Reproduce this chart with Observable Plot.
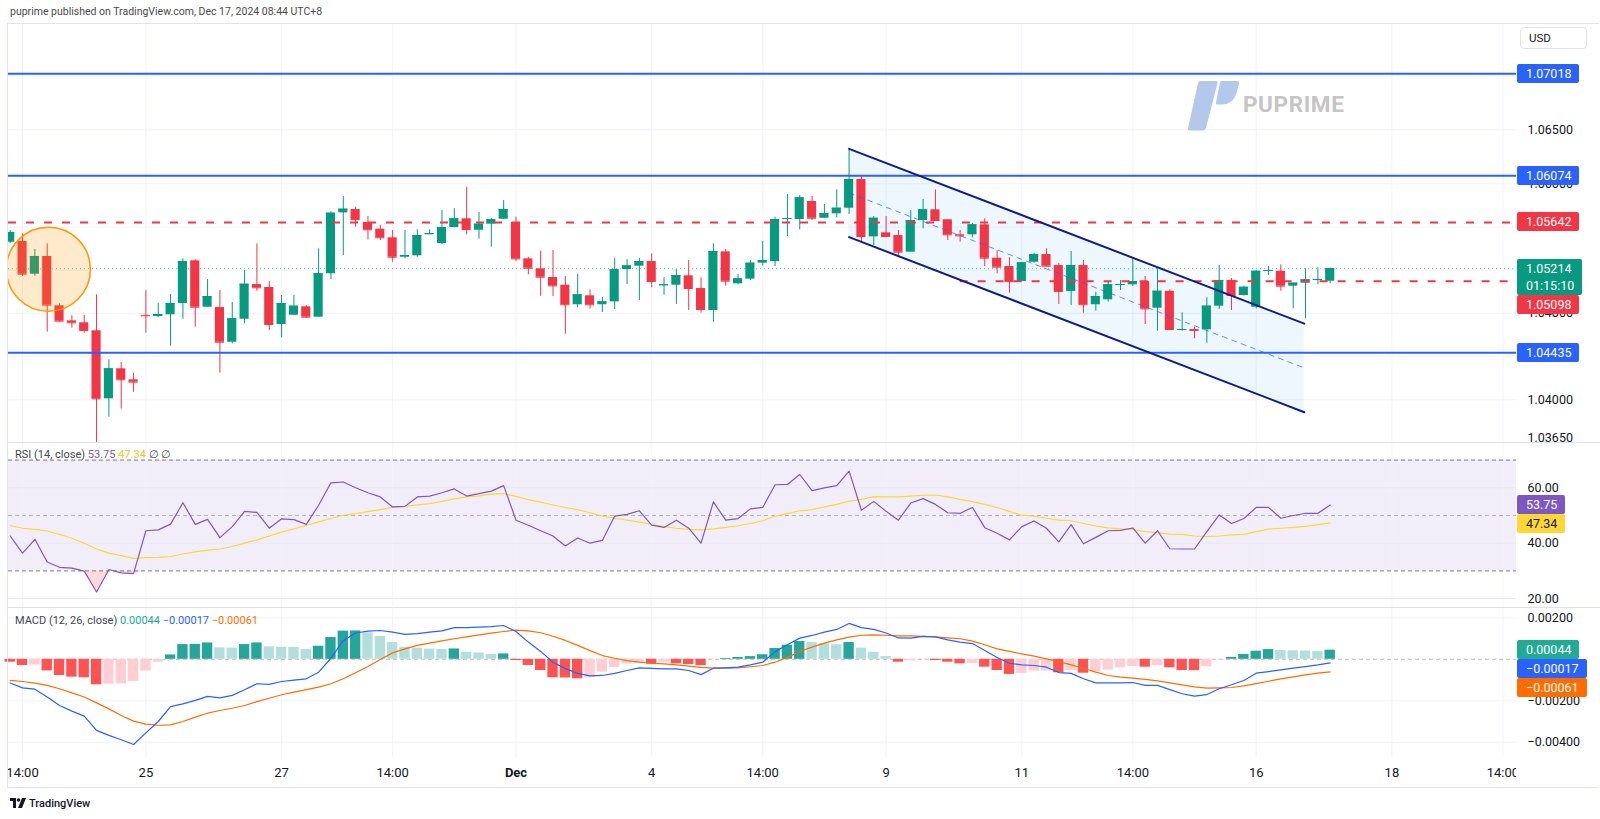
<!DOCTYPE html>
<html><head><meta charset="utf-8">
<script src="https://cdn.jsdelivr.net/npm/d3@7"></script>
<script src="https://cdn.jsdelivr.net/npm/@observablehq/plot@0.6"></script>
<style>
body{margin:0;background:#fff;font-family:Roboto,"Liberation Sans",sans-serif;}
#root{position:relative;width:1600px;height:819px;overflow:hidden;background:#fff;}
.badge{position:absolute;left:1517px;height:19px;line-height:19px;padding:0 8px 0 9px;font-size:12.5px;color:#fff;border-radius:2px;white-space:nowrap;box-sizing:border-box}
</style></head><body><div id="root"></div><script>
// ---------- data ----------
const open = [1.05459,1.05466,1.05163,1.05327,1.04870,1.04731,1.04713,1.04639,1.04009,1.04287,
1.04185,1.04782,1.04771,1.04787,1.04892,1.05287,1.04857,1.04854,1.04533,1.04746,
1.05067,1.05040,1.04697,1.04783,1.04861,1.04765,1.05167,1.05731,1.05762,1.05642,
1.05580,1.05500,1.05320,1.05333,1.05528,1.05447,1.05595,1.05676,1.05570,1.05626,
1.05672,1.05642,1.05305,1.05213,1.05132,1.05061,1.04880,1.04963,1.04880,1.04907,
1.05206,1.05237,1.05280,1.05056,1.05061,1.05148,1.05030,1.04827,1.05370,1.05074,
1.05117,1.05265,1.05280,1.05672,1.05669,1.05836,1.05681,1.05722,1.05774,1.06040,
1.05509,1.05546,1.05521,1.05367,1.05660,1.05759,1.05667,1.05528,1.05528,1.05620,
1.05311,1.05234,1.05095,1.05274,1.05345,1.05243,1.05003,1.05243,1.04880,1.04926,
1.05061,1.05065,1.05095,1.04848,1.05005,1.04642,1.04651,1.04648,1.04867,1.05105,
1.04966,1.04857,1.05190,1.05190,1.05052,1.05080,1.05107,1.05098];
const high = [1.05568,1.05537,1.05392,1.05444,1.04889,1.04778,1.04780,1.04972,1.04370,1.04345,
1.04246,1.05012,1.04894,1.04975,1.05305,1.05296,1.05114,1.05012,1.04901,1.05197,
1.05444,1.05095,1.04966,1.04966,1.04873,1.05398,1.05741,1.05882,1.05783,1.05697,
1.05617,1.05568,1.05568,1.05574,1.05574,1.05753,1.05769,1.05968,1.05734,1.05676,
1.05845,1.05691,1.05320,1.05376,1.05382,1.05142,1.05160,1.05018,1.04947,1.05308,
1.05299,1.05308,1.05352,1.05130,1.05204,1.05290,1.05130,1.05444,1.05392,1.05160,
1.05290,1.05468,1.05691,1.05901,1.05892,1.05882,1.05808,1.05944,1.06308,1.06077,
1.05697,1.05697,1.05568,1.05753,1.05855,1.05944,1.05667,1.05568,1.05635,1.05676,
1.05382,1.05315,1.05274,1.05357,1.05398,1.05262,1.05373,1.05290,1.04996,1.05089,
1.05105,1.05305,1.05142,1.05213,1.05018,1.04805,1.04672,1.04944,1.05243,1.05123,
1.05052,1.05197,1.05234,1.05250,1.05080,1.05213,1.05222,1.05220];
const low = [1.05447,1.05142,1.05142,1.04626,1.04718,1.04663,1.04617,1.03350,1.03839,1.03913,
1.04070,1.04617,1.04759,1.04496,1.04746,1.04672,1.04857,1.04246,1.04518,1.04704,
1.05005,1.04642,1.04574,1.04783,1.04753,1.04765,1.05111,1.05336,1.05598,1.05481,
1.05475,1.05274,1.05305,1.05320,1.05528,1.05438,1.05592,1.05528,1.05487,1.05413,
1.05672,1.05281,1.05157,1.04959,1.04956,1.04607,1.04852,1.04839,1.04808,1.04836,
1.05067,1.04919,1.05037,1.04968,1.04883,1.04827,1.04802,1.04718,1.05052,1.05065,
1.05105,1.05237,1.05234,1.05512,1.05574,1.05660,1.05681,1.05685,1.05716,1.05459,
1.05429,1.05505,1.05336,1.05367,1.05583,1.05660,1.05475,1.05459,1.05500,1.05234,
1.05167,1.04987,1.05095,1.05265,1.05228,1.04883,1.04873,1.04802,1.04820,1.04904,
1.05012,1.05049,1.04697,1.04635,1.04642,1.04635,1.04565,1.04524,1.04836,1.04827,
1.04960,1.04842,1.05151,1.05005,1.04842,1.04750,1.05065,1.05074];
const close = [1.05549,1.05163,1.05327,1.04876,1.04728,1.04713,1.04642,1.04009,1.04287,1.04185,
1.04163,1.04778,1.04790,1.04892,1.05280,1.04857,1.04956,1.04533,1.04750,1.05070,
1.05037,1.04697,1.04892,1.04867,1.04765,1.05167,1.05728,1.05765,1.05669,1.05574,
1.05500,1.05320,1.05336,1.05521,1.05540,1.05595,1.05676,1.05577,1.05626,1.05667,
1.05762,1.05305,1.05218,1.05135,1.05055,1.04880,1.04972,1.04880,1.04907,1.05204,
1.05240,1.05280,1.05095,1.05065,1.05151,1.05030,1.04836,1.05373,1.05098,1.05120,
1.05265,1.05290,1.05669,1.05679,1.05870,1.05681,1.05725,1.05774,1.06040,1.05512,
1.05681,1.05512,1.05367,1.05660,1.05759,1.05660,1.05528,1.05518,1.05620,1.05311,
1.05228,1.05095,1.05268,1.05345,1.05237,1.05003,1.05243,1.04880,1.04956,1.05065,
1.05067,1.05095,1.04842,1.05005,1.04651,1.04651,1.04642,1.04867,1.05105,1.04966,
1.05042,1.05190,1.05197,1.05052,1.05080,1.05111,1.05114,1.05214];

const rsi = [42.6,36.4,41.4,33.2,31.3,31.0,29.9,22.4,30.5,29.3,
29.0,44.5,44.8,46.9,54.6,46.8,48.6,42.0,46.0,51.5,
51.1,45.4,48.8,48.5,46.8,53.7,61.8,62.1,60.0,58.2,
56.7,53.1,53.3,56.7,57.0,58.2,59.6,57.0,57.9,58.8,
60.8,48.3,46.5,44.5,42.6,39.0,41.9,40.0,41.0,49.8,
50.4,51.7,46.5,45.7,48.3,45.4,40.0,54.9,48.3,48.9,
52.4,52.9,61.1,61.2,64.8,59.0,60.0,60.8,66.0,51.9,
55.1,51.5,48.3,54.5,56.1,54.0,51.0,50.8,52.9,45.6,
43.6,41.2,46.0,48.0,45.4,40.5,46.7,39.8,42.1,44.5,
44.6,45.5,40.0,44.5,38.0,37.9,37.9,44.2,50.2,47.1,
48.9,52.9,52.9,49.0,50.0,50.8,50.8,53.75];
const rsiMA = [46.4,45.4,45.0,44.4,43.2,41.8,40.0,37.9,36.4,35.5,
34.5,34.8,34.9,35.2,36.1,36.9,37.5,37.9,38.8,40.0,
41.2,42.6,44.0,45.2,46.4,47.7,48.9,50.1,50.7,51.4,
52.1,52.9,53.3,53.8,54.3,55.1,56.0,56.7,57.1,57.7,
57.9,56.9,55.7,54.8,53.8,52.9,52.1,51.0,49.8,49.0,
48.3,47.6,46.8,46.0,45.4,45.0,44.8,45.2,45.7,46.3,
47.1,48.1,49.8,50.7,51.7,52.1,53.1,54.0,55.2,55.8,
56.8,56.7,56.7,57.0,57.3,57.4,56.7,55.8,55.0,54.0,
52.9,51.5,50.1,49.8,49.0,48.3,48.1,47.1,46.2,45.5,
45.2,45.0,44.2,43.8,43.3,43.2,42.6,42.4,42.6,43.0,
43.2,44.2,45.1,45.4,45.7,46.1,46.7,47.34];

const macdHist = [-0.00014,-0.00030,-0.00028,-0.00056,-0.00078,-0.00086,-0.00089,-0.00123,-0.00120,-0.00118,
-0.00107,-0.00057,-0.00014,0.00021,0.00071,0.00072,0.00079,0.00055,0.00054,0.00071,
0.00079,0.00060,0.00058,0.00057,0.00047,0.00063,0.00105,0.00136,0.00137,0.00128,
0.00110,0.00081,0.00058,0.00054,0.00049,0.00048,0.00050,0.00034,0.00031,0.00024,
0.00026,-0.00006,-0.00030,-0.00054,-0.00089,-0.00090,-0.00094,-0.00089,-0.00062,-0.00040,
-0.00023,-0.00020,-0.00024,-0.00014,-0.00022,-0.00025,-0.00030,-0.00001,0.00004,0.00009,
0.00013,0.00022,0.00052,0.00068,0.00086,0.00081,0.00076,0.00070,0.00081,0.00054,
0.00034,0.00013,-0.00014,-0.00008,-0.00002,-0.00006,-0.00014,-0.00022,-0.00020,-0.00038,
-0.00054,-0.00073,-0.00068,-0.00057,-0.00056,-0.00065,-0.00055,-0.00067,-0.00060,-0.00052,
-0.00041,-0.00035,-0.00038,-0.00030,-0.00041,-0.00054,-0.00055,-0.00036,-0.00003,0.00009,
0.00023,0.00039,0.00047,0.00042,0.00041,0.00040,0.00037,0.00044];
const macdLine = [-0.00114,-0.00138,-0.00144,-0.00182,-0.00223,-0.00250,-0.00274,-0.00343,-0.00367,-0.00388,
-0.00411,-0.00355,-0.00300,-0.00228,-0.00215,-0.00198,-0.00179,-0.00186,-0.00174,-0.00147,
-0.00118,-0.00121,-0.00107,-0.00100,-0.00094,-0.00062,0.00005,0.00090,0.00127,0.00136,
0.00139,0.00131,0.00120,0.00124,0.00131,0.00137,0.00153,0.00153,0.00155,0.00158,
0.00163,0.00134,0.00083,0.00038,-0.00014,-0.00045,-0.00068,-0.00080,-0.00078,-0.00068,
-0.00054,-0.00041,-0.00044,-0.00046,-0.00046,-0.00054,-0.00074,-0.00043,-0.00041,-0.00038,
-0.00027,-0.00014,0.00037,0.00070,0.00102,0.00115,0.00131,0.00144,0.00173,0.00153,
0.00144,0.00127,0.00103,0.00102,0.00111,0.00108,0.00094,0.00083,0.00076,0.00042,
0.00009,-0.00019,-0.00027,-0.00030,-0.00038,-0.00064,-0.00068,-0.00094,-0.00114,-0.00114,
-0.00114,-0.00112,-0.00126,-0.00126,-0.00146,-0.00166,-0.00178,-0.00170,-0.00142,-0.00123,
-0.00102,-0.00067,-0.00059,-0.00051,-0.00043,-0.00035,-0.00027,-0.00017];
const signalLine = [-0.00102,-0.00107,-0.00115,-0.00126,-0.00142,-0.00162,-0.00182,-0.00210,-0.00239,-0.00271,
-0.00298,-0.00313,-0.00318,-0.00316,-0.00300,-0.00279,-0.00260,-0.00247,-0.00236,-0.00223,
-0.00204,-0.00188,-0.00171,-0.00158,-0.00146,-0.00134,-0.00118,-0.00094,-0.00065,-0.00035,
-0.00001,0.00031,0.00050,0.00067,0.00078,0.00089,0.00099,0.00108,0.00118,0.00126,
0.00134,0.00141,0.00137,0.00128,0.00111,0.00091,0.00067,0.00042,0.00018,0.00005,
-0.00006,-0.00014,-0.00019,-0.00022,-0.00027,-0.00033,-0.00039,-0.00043,-0.00043,-0.00041,
-0.00036,-0.00030,-0.00014,0.00009,0.00038,0.00059,0.00078,0.00094,0.00107,0.00116,
0.00118,0.00116,0.00113,0.00113,0.00111,0.00108,0.00103,0.00099,0.00088,0.00070,
0.00050,0.00038,0.00026,0.00015,0.00002,-0.00011,-0.00027,-0.00043,-0.00062,-0.00078,
-0.00086,-0.00091,-0.00097,-0.00104,-0.00114,-0.00123,-0.00133,-0.00139,-0.00138,-0.00136,
-0.00128,-0.00117,-0.00106,-0.00094,-0.00085,-0.00075,-0.00067,-0.00061];

const timeTickIdx = [1,11,22,31,41,52,61,71,82,91,101,112,121];
const timeTickLabel = ["14:00","25","27","14:00","Dec","4","14:00","9","11","14:00","16","18","14:00"];
const boldLabels = ["Dec"];

const priceGrid = [1.070,1.065,1.060,1.056,1.052,1.048,1.044,1.040];
const priceAxisTicks = [1.065,1.060,1.048,1.040,1.0365];
const rsiGrid = [60,40,20];
const rsiBand = [30,70];
const rsiMid = [50];
const macdGrid = [0.002,-0.002,-0.004];

const blueLevels = [1.07018,1.06074,1.04435];
const redLevels = [1.05642];
const redLevelPartial = [1.05098];
const redLevelPartialStart = 77;
const lastPrice = 1.05214;
const countdown = "01:15:10";
const channelX = [68,104.9];
const channelUpper = [1.06324,1.04705];
const channelLower = [1.05506,1.03885];
const channelMid = [1.05915,1.04295];
const circleIdx = 3.1, circlePrice = 1.05208;

// ---------- layout ----------
const W = 1600, ML = 8, MR = 84;
const X_DOMAIN = [-0.138, 122.1];
const UP = "#089981", DOWN = "#f23645";
const GRID = "#f0f3fa";
const TOP_MAIN = 23, H_MAIN = 419, TOP_RSI = 442, H_RSI = 165, TOP_MACD = 607, H_MACD = 150, TOP_TIME = 757, H_TIME = 31;

const root = document.getElementById("root");
const candles = close.map((c,i)=>({i, o:open[i], h:high[i], l:low[i], c, col: c>=open[i]?UP:DOWN}));
const ticks = timeTickIdx.map((i,k)=>({i, label:timeTickLabel[k]}));
const chan = channelX.map((x,k)=>({x, hi:channelUpper[k], lo:channelLower[k], mid:channelMid[k]}));
const rsiData = rsi.map((v,i)=>({i, v, ma:rsiMA[i]}));
const macdData = macdHist.map((h,i)=>{
  const prev = i>0 ? macdHist[i-1] : 0;
  const col = h>=0 ? (h>=prev?"#26a69a":"#b2dfdb") : (h<prev?"#ff5252":"#ffcdd2");
  return {i, h, m:macdLine[i], s:signalLine[i], col};
});

function put(el, top){
  const d = document.createElement("div");
  d.style.cssText = `position:absolute;left:0;top:${top}px;`;
  d.appendChild(el); root.appendChild(d); return el;
}
const style = {background:"transparent", fontFamily:"Roboto, sans-serif", fontSize:"12.5px", color:"#131722", overflow:"hidden"};
const common = {width:W, marginLeft:ML, marginRight:MR, marginTop:0, marginBottom:0,
  x:{domain:X_DOMAIN, axis:null}, color:{type:"identity"}, style};
const bw = 0.37;

// main pane
const main = put(Plot.plot({...common, height:H_MAIN,
  y:{domain:[1.036046,1.074843], axis:"right", ticks:priceAxisTicks, tickSize:0, tickPadding:11, tickFormat:d=>d.toFixed(5), label:null},
  marks:[
    Plot.ruleX(ticks,{x:"i", stroke:GRID}),
    Plot.ruleY(priceGrid,{stroke:GRID}),
    Plot.area(chan,{x1:"x", y1:"lo", y2:"hi", fill:"#2196f3", fillOpacity:0.08}),
    Plot.ruleX(candles,{x:"i", y1:"l", y2:"h", stroke:"col", clip:true}),
    Plot.rect(candles,{x1:d=>d.i-bw, x2:d=>d.i+bw, y1:"o", y2:"c", fill:"col", clip:true}),
    Plot.ruleY(candles,{x1:d=>d.i-bw, x2:d=>d.i+bw, y:"c", stroke:"col", clip:true}),
    Plot.ruleY([lastPrice],{stroke:UP, strokeOpacity:0.6, strokeDasharray:"1,3"}),
    Plot.ruleY(blueLevels,{stroke:"#2962ff", strokeWidth:2}),
    Plot.ruleY(redLevels,{stroke:"#f23645", strokeWidth:2, strokeDasharray:"8,10"}),
    Plot.ruleY(redLevelPartial,{x1:redLevelPartialStart, x2:X_DOMAIN[1], stroke:"#f23645", strokeWidth:2, strokeDasharray:"8,10"}),
    Plot.line(chan,{x:"x", y:"mid", stroke:"#2962ff", strokeOpacity:0.7, strokeWidth:1, strokeDasharray:"5,5"}),
    Plot.line(chan,{x:"x", y:"hi", stroke:"#0f1c8c", strokeWidth:2}),
    Plot.line(chan,{x:"x", y:"lo", stroke:"#0f1c8c", strokeWidth:2}),
    Plot.dot([{i:circleIdx, p:circlePrice}],{x:"i", y:"p", r:42, fill:"#ff9800", fillOpacity:0.2, stroke:"#ff9800", strokeWidth:1.5, clip:true})
  ]}), TOP_MAIN);

// RSI pane
const rsiPlot = put(Plot.plot({...common, height:H_RSI,
  y:{domain:[16.79,76.35], axis:"right", ticks:rsiGrid, tickSize:0, tickPadding:11, tickFormat:d=>d.toFixed(2), label:null},
  marks:[
    Plot.rect([rsiBand],{x1:X_DOMAIN[0], x2:X_DOMAIN[1], y1:d=>d[0], y2:d=>d[1], fill:"#7e57c2", fillOpacity:0.1}),
    Plot.ruleX(ticks,{x:"i", stroke:GRID, strokeOpacity:0.8}),
    Plot.ruleY(rsiGrid,{stroke:"#e9e6f2"}),
    Plot.ruleY(rsiBand,{stroke:"#787b86", strokeDasharray:"4,3"}),
    Plot.ruleY(rsiMid,{stroke:"#787b86", strokeOpacity:0.5, strokeDasharray:"4,3"}),
    Plot.areaY(rsiData,{x:"i", y1:30, y2:d=>Math.min(d.v,30), fill:"#f23645", fillOpacity:0.18}),
    Plot.line(rsiData,{x:"i", y:"ma", stroke:"#fdd835", strokeWidth:1.2}),
    Plot.line(rsiData,{x:"i", y:"v", stroke:"#7e57c2", strokeWidth:1.2})
  ]}), TOP_RSI);

// MACD pane
const fmtM = d => (d<0?"\u2212":"") + Math.abs(d).toFixed(5);
const macdPlot = put(Plot.plot({...common, height:H_MACD,
  y:{domain:[-0.0047364,0.0024984], axis:"right", ticks:macdGrid, tickSize:0, tickPadding:11, tickFormat:fmtM, label:null},
  marks:[
    Plot.ruleX(ticks,{x:"i", stroke:GRID}),
    Plot.ruleY(macdGrid,{stroke:GRID}),
    Plot.ruleY([0],{stroke:"#787b86", strokeOpacity:0.5, strokeDasharray:"4,3"}),
    Plot.rect(macdData,{x1:d=>d.i-0.42, x2:d=>d.i+0.42, y1:0, y2:"h", fill:"col"}),
    Plot.line(macdData,{x:"i", y:"s", stroke:"#ff6d00", strokeWidth:1.2}),
    Plot.line(macdData,{x:"i", y:"m", stroke:"#2962ff", strokeWidth:1.2})
  ]}), TOP_MACD);

// time axis
put(Plot.plot({...common, height:H_TIME,
  marks:[
    Plot.text(ticks.filter(d=>!boldLabels.includes(d.label)),{x:"i", text:"label", frameAnchor:"middle", fontSize:13, fill:"#131722", clip:true}),
    Plot.text(ticks.filter(d=>boldLabels.includes(d.label)),{x:"i", text:"label", frameAnchor:"middle", fontSize:13, fontWeight:"bold", fill:"#131722", clip:true})
  ]}), TOP_TIME);

// ---------- HTML decorations ----------
function div(css, html){ const d=document.createElement("div"); d.style.cssText=css; if(html!=null) d.innerHTML=html; root.appendChild(d); return d; }
div("position:absolute;left:10px;top:5px;font-size:10.5px;color:#4a4a4a;white-space:nowrap", "puprime published on TradingView.com, Dec 17, 2024 08:44 UTC+8");
// frame
div("position:absolute;left:7px;top:23px;width:1592px;height:765px;border:1px solid #e0e3eb;border-right:none;box-sizing:border-box");
div("position:absolute;left:7px;top:442px;width:1593px;height:1px;background:#dfe1e8");
div("position:absolute;left:7px;top:607px;width:1593px;height:1px;background:#dfe1e8");
// USD box
div("position:absolute;left:1520px;top:27px;width:67px;height:22px;border:1px solid #e0e3eb;border-radius:4px;box-sizing:border-box;font-size:11.5px;color:#131722;line-height:20px;padding-left:8px", "USD");
// watermark
div("position:absolute;left:1186px;top:79px;width:56px;height:54px", `<svg width="56" height="54" viewBox="0 0 56 54"><path d="M14,2 L30,2 Q32,2 31.4,4.5 L20,49 Q19.3,51.5 16.5,51.5 L3.5,51.5 Q1.5,51.5 2,49 L12,4.5 Q12.6,2 14,2 Z" fill="#b3c8eb"/><path d="M35,2 L51,2 Q53.5,2 53,4.5 L50.5,14 Q47.5,25 36,25.5 L31,25.5 Q29.5,25.5 30,23.5 L34,3.5 Q34.3,2 35,2 Z" fill="#b3c8eb"/></svg>`);
div("position:absolute;left:1243px;top:91px;font-size:22.5px;font-weight:bold;color:#c5c5c5;letter-spacing:0.6px;font-family:Roboto,sans-serif", "PUPRIME");
// legends
div(`position:absolute;left:15px;top:${455-7}px;font-size:11px;color:#434651;white-space:nowrap;line-height:14px`,
  `RSI (14, close) <span style="color:#7e57c2">${rsi[rsi.length-1].toFixed(2)}</span> <span style="color:#f0c419">${rsiMA[rsiMA.length-1].toFixed(2)}</span> <span style="color:#434651">\u2205 \u2205</span>`);
div(`position:absolute;left:15px;top:${621-7}px;font-size:11px;color:#434651;white-space:nowrap;line-height:14px`,
  `MACD (12, 26, close) <span style="color:#22ab94">${fmtM(macdHist[macdHist.length-1])}</span> <span style="color:#2962ff">${fmtM(macdLine[macdLine.length-1])}</span> <span style="color:#ff6d00">${fmtM(signalLine[signalLine.length-1])}</span>`);
// footer
div("position:absolute;left:10px;top:796px;height:14px;display:flex;align-items:center;font-size:11px;color:#131722;font-weight:500",
  `<svg width="16" height="10" viewBox="0 0 16 10" style="margin-right:3px"><path d="M0,0 H6 V10 H3 V3 H0 Z" fill="#131722"/><circle cx="8.5" cy="2" r="1.8" fill="#131722"/><path d="M12,0 H16 L12,10 H8 Z" fill="#131722"/></svg>TradingView`);

// badges positioned with the library's scales
function badges(items, paneTop, sc){
  const arr = items.map(d=>({...d, y:paneTop + sc.apply(d.v)})).sort((a,b)=>a.y-b.y);
  let prevBottom = -Infinity;
  for(const d of arr){
    const h = d.sub ? 36 : 19;
    const top = Math.max(d.y - 9.5, prevBottom);
    prevBottom = top + h;
    const el = div(`top:${top}px;background:${d.bg};color:${d.fg||"#fff"};`+(d.sub?`height:36px;line-height:17px;padding-top:1px;`:""),
      d.text + (d.sub?`<br>${d.sub}`:""));
    el.className = "badge";
  }
}
badges([
  ...blueLevels.map(v=>({v, text:v.toFixed(5), bg:"#2962ff"})),
  ...redLevels.map(v=>({v, text:v.toFixed(5), bg:"#f23645"})),
  ...redLevelPartial.map(v=>({v, text:v.toFixed(5), bg:"#f23645"})),
  {v:lastPrice, text:lastPrice.toFixed(5), sub:countdown, bg:"#089981"}
], TOP_MAIN, main.scale("y"));
badges([
  {v:rsi[rsi.length-1], text:rsi[rsi.length-1].toFixed(2), bg:"#7e57c2"},
  {v:rsiMA[rsiMA.length-1], text:rsiMA[rsiMA.length-1].toFixed(2), bg:"#fdd835", fg:"#131722"}
], TOP_RSI, rsiPlot.scale("y"));
badges([
  {v:macdHist[macdHist.length-1], text:fmtM(macdHist[macdHist.length-1]), bg:"#22ab94"},
  {v:macdLine[macdLine.length-1], text:fmtM(macdLine[macdLine.length-1]), bg:"#2962ff"},
  {v:signalLine[signalLine.length-1], text:fmtM(signalLine[signalLine.length-1]), bg:"#ff6d00"}
], TOP_MACD, macdPlot.scale("y"));
</script></body></html>
